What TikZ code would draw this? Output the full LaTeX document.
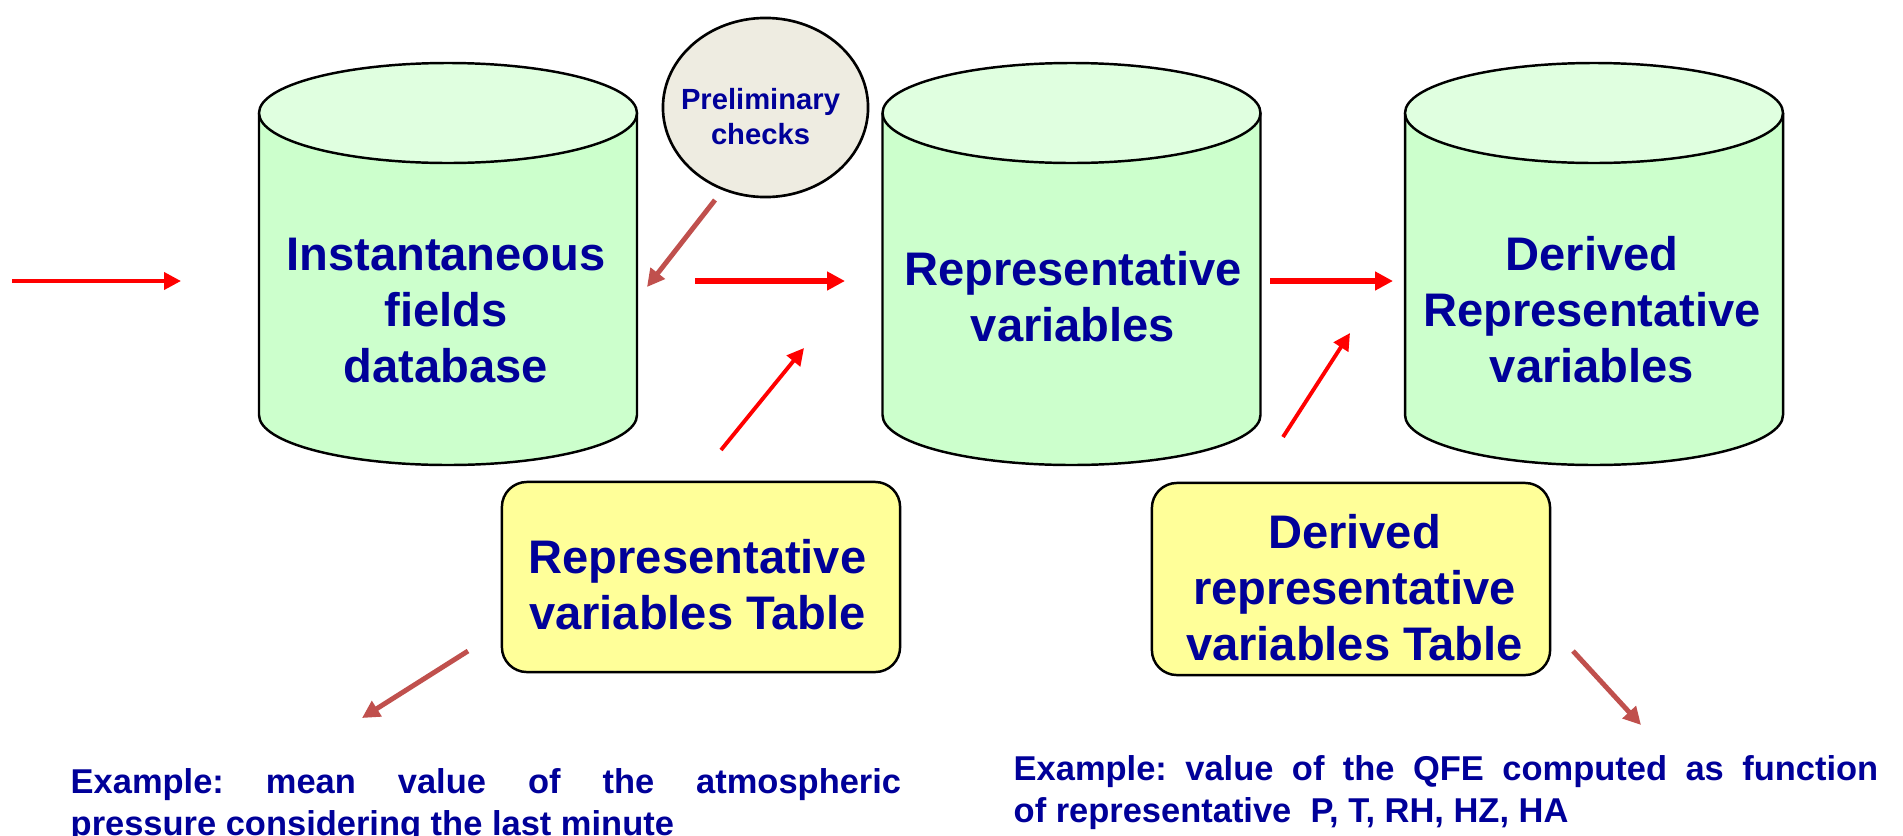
\documentclass[tikz,border=0pt]{standalone}
\usepackage{fontspec}
\setmainfont{Liberation Sans}
\usepackage{xcolor}
\usepackage{tikz}
\usetikzlibrary{arrows.meta,shapes.geometric}
\frenchspacing
\definecolor{navy}{HTML}{000099}
\definecolor{dbbody}{HTML}{CCFFCC}
\definecolor{dbtop}{HTML}{E0FFE0}
\definecolor{chkfill}{HTML}{EEECE1}
\definecolor{tabfill}{HTML}{FFFF99}
\definecolor{hintred}{HTML}{C0504D}
\newcommand{\dbrx}{189}
\newcommand{\dbry}{50}
\newcommand{\dbcyl}[1]{\filldraw[dbline,fill=dbbody] (#1-\dbrx,722) -- (#1-\dbrx,420) arc[start angle=180,end angle=360,x radius=\dbrx,y radius=\dbry] -- (#1+\dbrx,722);
  \filldraw[dbline,fill=dbtop] (#1,722) ellipse[x radius=\dbrx,y radius=\dbry];}

\tikzset{
  dbline/.style={black,line width=0.7pt},
  bigtxt/.style={text=navy,align=center,inner sep=0pt,font=\fontsize{13.4}{15.9}\selectfont\bfseries},
  chktxt/.style={text=navy,align=center,inner sep=0pt,font=\fontsize{8.3}{9.95}\selectfont\bfseries},
  extxt/.style={text=navy,align=justify,inner sep=0pt,anchor=north west,font=\fontsize{9.8}{11.9}\selectfont\bfseries\sloppy\frenchspacing},
  tabbox/.style={draw,fill=tabfill,line width=0.7pt,rounded corners=0.25cm,inner sep=0pt,minimum width=3.98cm},
  chkshape/.style={ellipse,draw,fill=chkfill,line width=0.75pt,inner sep=0pt,minimum width=2.05cm,minimum height=1.79cm},
  feed/.style={red,line width=1.1pt,-{Triangle[length=4.8pt,width=4.8pt]}},
  flow/.style={red,line width=1.85pt,-{Triangle[length=5.1pt,width=5.1pt]}},
  hint/.style={hintred,line width=1.4pt,-{Triangle[length=5pt,width=5pt]}}
}

\begin{document}
\begin{tikzpicture}[x=0.01cm,y=0.01cm]
    \useasboundingbox (0,0) rectangle (1903,835);

    \dbcyl{448}
    \dbcyl{1071.5}
    \dbcyl{1594}

    \node[bigtxt] (db) at (446,524.3) {Instantaneous\\fields\\database};
    \node[bigtxt] (rep) at (1073,538) {Representative\\variables};
    \node[bigtxt] (drv) at (1592,525) {Derived\\Representative\\variables};

    \node[chkshape] (chk) at (765.5,727.5) {};
    \node[chktxt] (chklbl) at (760.5,718.5) {Preliminary\\checks};

    \node[tabbox,minimum height=1.9cm] (tab1) at (701,258) {};
    \node[bigtxt] (tab1lbl) at (697.5,250) {Representative\\variables Table};
    \node[tabbox,minimum height=1.92cm] (tab2) at (1351,256) {};
    \node[bigtxt] (tab2lbl) at (1354.5,247) {Derived\\representative\\variables Table};

    \node[extxt,text width=8.3cm] (ex1) at (70,67) {Example: mean value of the atmospheric\linebreak pressure considering the last minute};
    \node[extxt,text width=8.64cm] (ex2) at (1013,80) {Example: value of the QFE computed as function\linebreak of representative~ P, T, RH, HZ, HA};

    % arrow ends
    \coordinate (inS) at (12,554);
    \coordinate (inE) at (181,554);
    \coordinate (f1S) at (695,554);
    \coordinate (f1E) at (845,554);
    \coordinate (f2S) at (1270,554);
    \coordinate (f2E) at (1393,554);
    \coordinate (u1S) at (721,385);
    \coordinate (u1E) at (804,487);
    \coordinate (u2S) at (1283,398);
    \coordinate (u2E) at (1350,502);
    \coordinate (c1S) at (715,635);
    \coordinate (c1E) at (647,548);
    \coordinate (c2S) at (468,184);
    \coordinate (c2E) at (362,117);
    \coordinate (c3S) at (1573,184);
    \coordinate (c3E) at (1641,110);

    \draw[feed] (inS) -- (inE);
    \draw[flow] (f1S) -- (f1E);
    \draw[flow] (f2S) -- (f2E);
    \draw[feed] (u1S) -- (u1E);
    \draw[feed] (u2S) -- (u2E);
    \draw[hint] (c1S) -- (c1E);
    \draw[hint] (c2S) -- (c2E);
    \draw[hint] (c3S) -- (c3E);
\end{tikzpicture}
\end{document}
